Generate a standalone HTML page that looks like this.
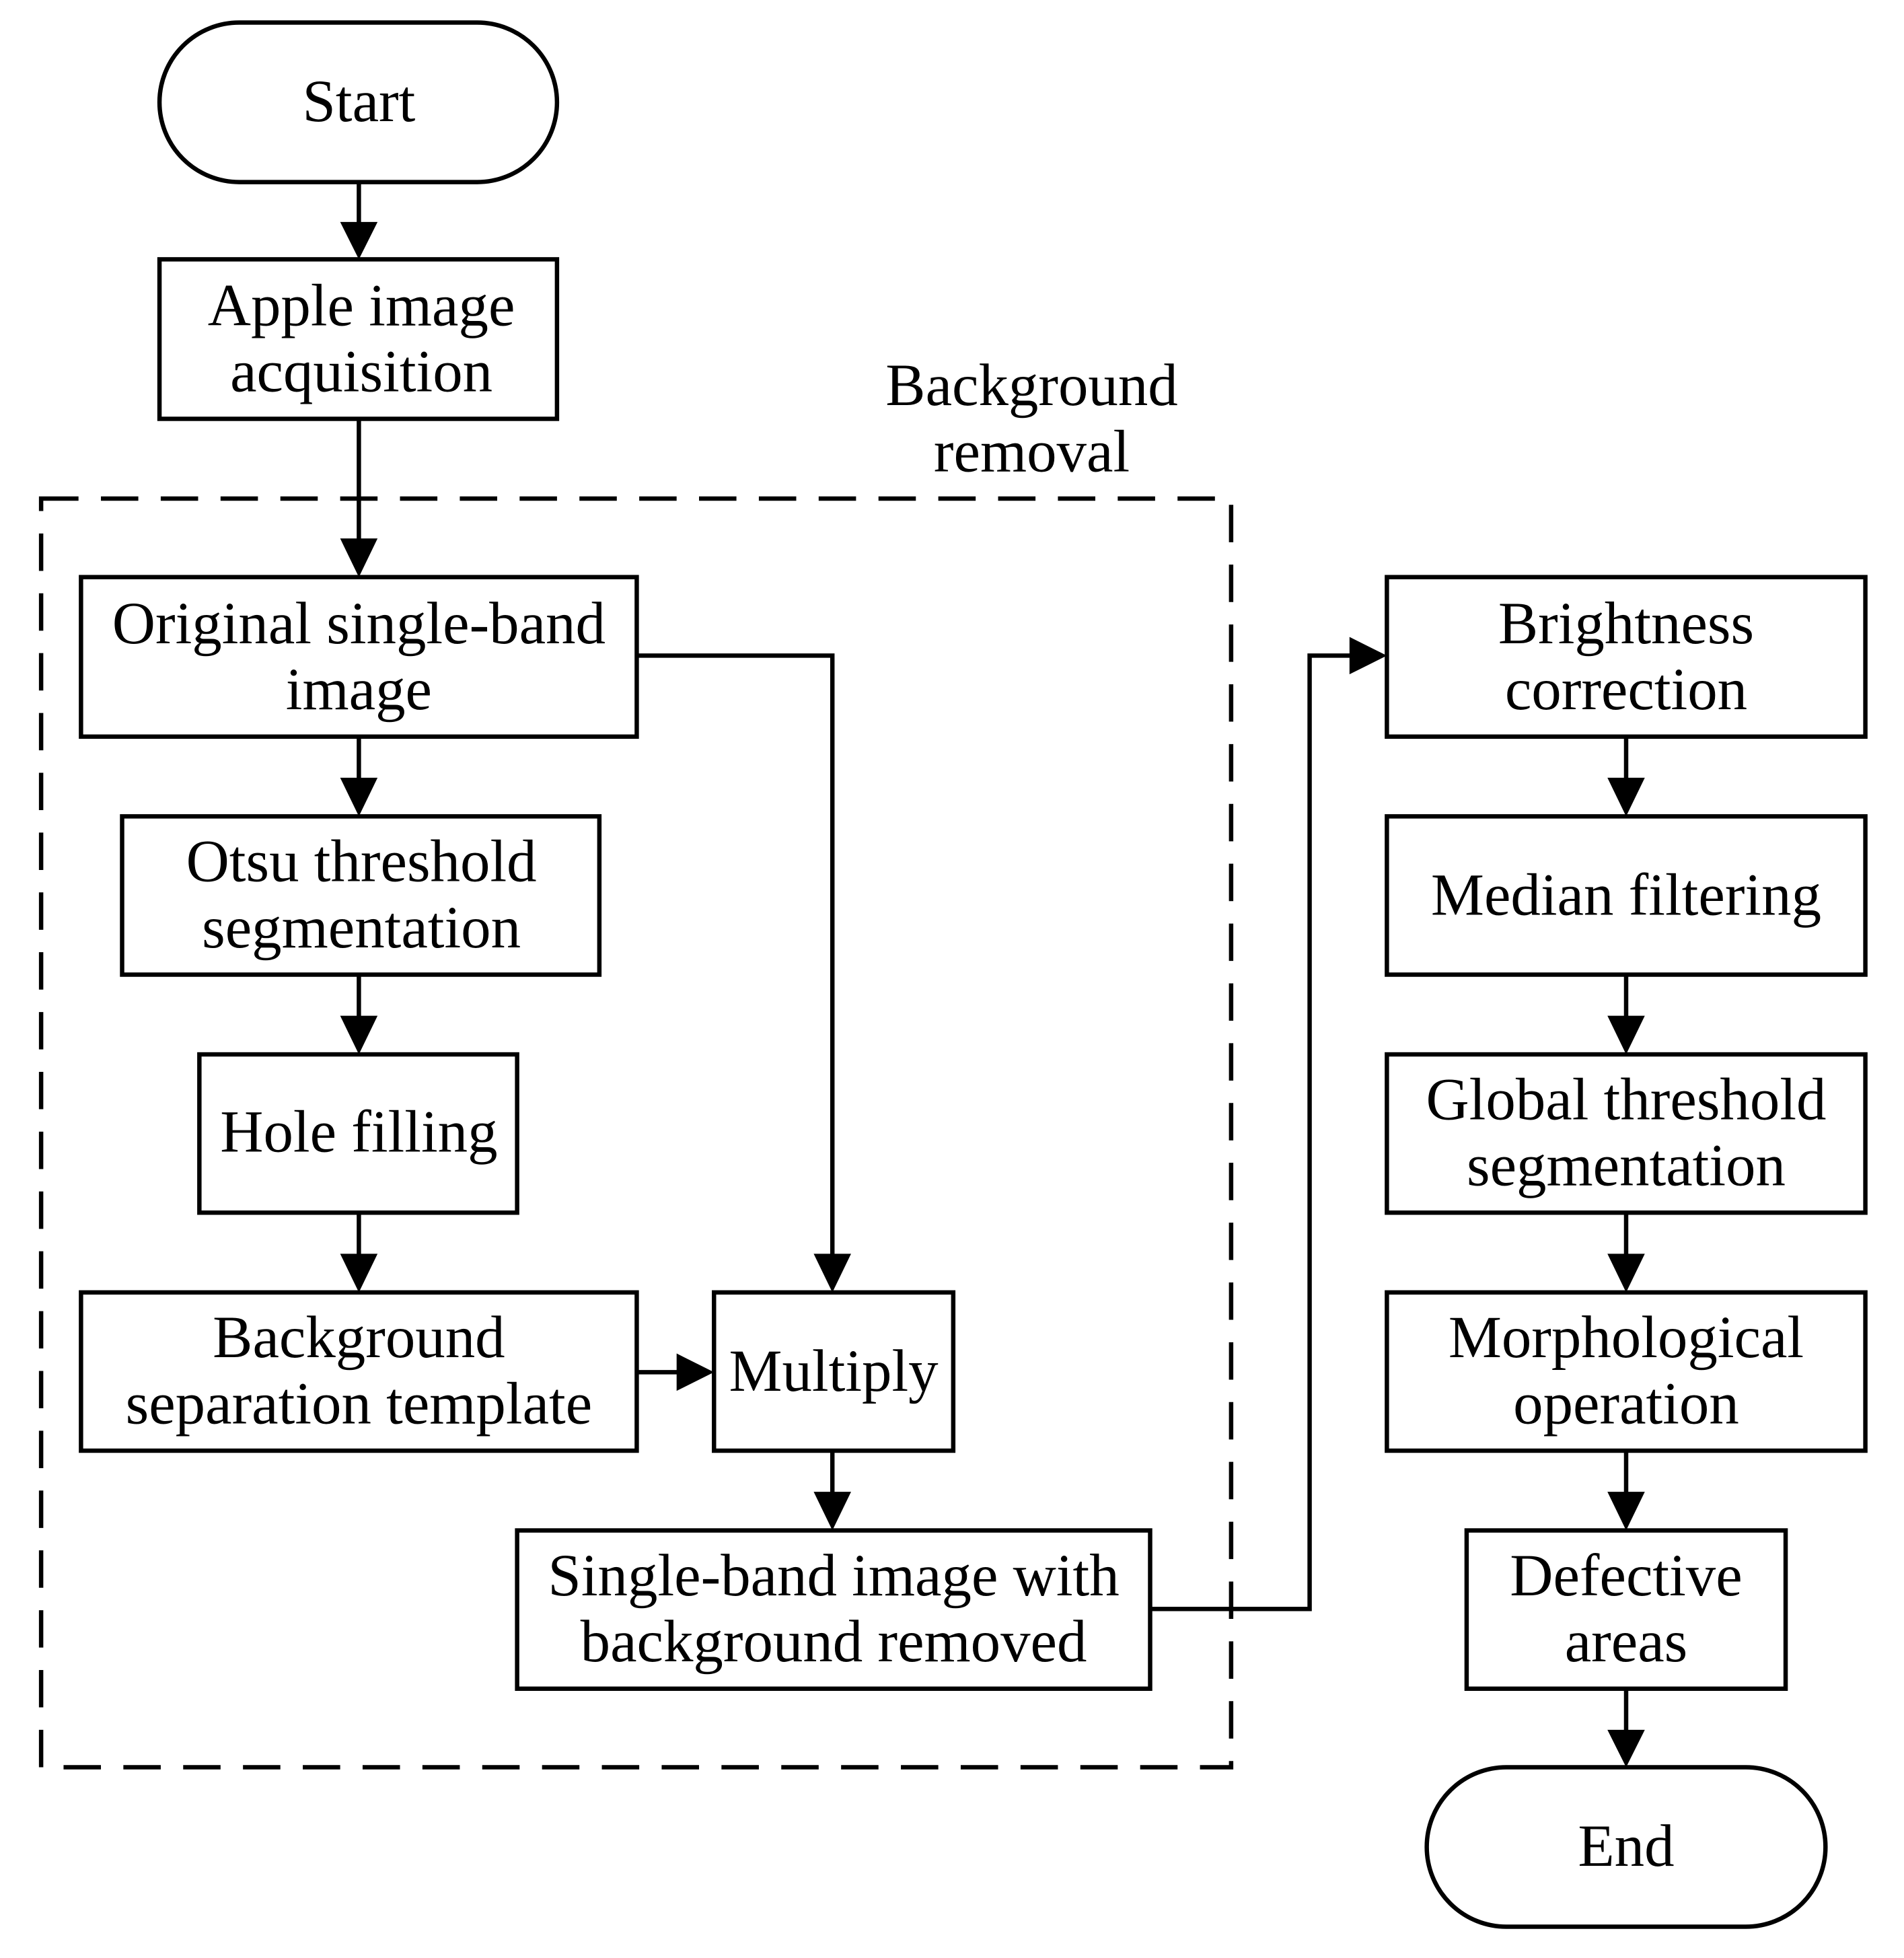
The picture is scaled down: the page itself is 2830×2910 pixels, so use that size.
<!DOCTYPE html>
<html><head><meta charset="utf-8"><style>
html,body{margin:0;padding:0;background:#fff;}
svg{display:block;}
text{font-family:"Liberation Serif",serif;font-size:48px;fill:#000;text-anchor:middle;}
</style></head><body>
<svg width="2830" height="2910" viewBox="0 0 1528 1571" xmlns="http://www.w3.org/2000/svg">
<g fill="none" stroke="#000" stroke-width="3.5">
<rect x="128" y="18" width="319" height="128" rx="64"/>
<rect x="128" y="208" width="319" height="128"/>
<rect x="33" y="400" width="955" height="1018" stroke-dasharray="30,18"/>
<rect x="65" y="463" width="446" height="128"/>
<rect x="98" y="655" width="383" height="127"/>
<rect x="160" y="846" width="255" height="127"/>
<rect x="65" y="1037" width="446" height="127"/>
<rect x="573" y="1037" width="192" height="127"/>
<rect x="415" y="1228" width="508" height="127"/>
<rect x="1113" y="463" width="384" height="128"/>
<rect x="1113" y="655" width="384" height="127"/>
<rect x="1113" y="846" width="384" height="127"/>
<rect x="1113" y="1037" width="384" height="127"/>
<rect x="1177" y="1228" width="256" height="127"/>
<rect x="1145" y="1418" width="320" height="128" rx="64"/>
<path d="M288 146V180 M288 336V434 M288 591V626 M288 782V817 M288 973V1008 M511 1101H545 M668 1164V1199 M511 526H668V1008 M923 1291H1051V526H1084 M1305 591V626 M1305 782V817 M1305 973V1008 M1305 1164V1199 M1305 1355V1390"/>
</g>
<g fill="#000">
<path d="M273 178h30l-15 30z"/>
<path d="M273 432h30l-15 31z"/>
<path d="M273 624h30l-15 31z"/>
<path d="M273 815h30l-15 31z"/>
<path d="M273 1006h30l-15 31z"/>
<path d="M653 1006h30l-15 31z"/>
<path d="M653 1197h30l-15 31z"/>
<path d="M543 1086v30l30-15z"/>
<path d="M1083 511v30l30-15z"/>
<path d="M1290 624h30l-15 31z"/>
<path d="M1290 815h30l-15 31z"/>
<path d="M1290 1006h30l-15 31z"/>
<path d="M1290 1197h30l-15 31z"/>
<path d="M1290 1388h30l-15 30z"/>
</g>
<text x="288" y="97">Start</text>
<text x="290" y="261">Apple image</text>
<text x="290" y="314">acquisition</text>
<text x="828" y="325">Background</text>
<text x="828" y="378">removal</text>
<text x="288" y="516">Original single-band</text>
<text x="288" y="569">image</text>
<text x="290" y="707">Otsu threshold</text>
<text x="290" y="760">segmentation</text>
<text x="288" y="924">Hole filling</text>
<text x="288" y="1089">Background</text>
<text x="288" y="1142">separation template</text>
<text x="669" y="1116">Multiply</text>
<text x="669" y="1280">Single-band image with</text>
<text x="669" y="1333">background removed</text>
<text x="1305" y="516">Brightness</text>
<text x="1305" y="569">correction</text>
<text x="1305" y="734">Median filtering</text>
<text x="1305" y="898">Global threshold</text>
<text x="1305" y="951">segmentation</text>
<text x="1305" y="1089">Morphological</text>
<text x="1305" y="1142">operation</text>
<text x="1305" y="1280">Defective</text>
<text x="1305" y="1333">areas</text>
<text x="1305" y="1497">End</text>
</svg>
</body></html>
